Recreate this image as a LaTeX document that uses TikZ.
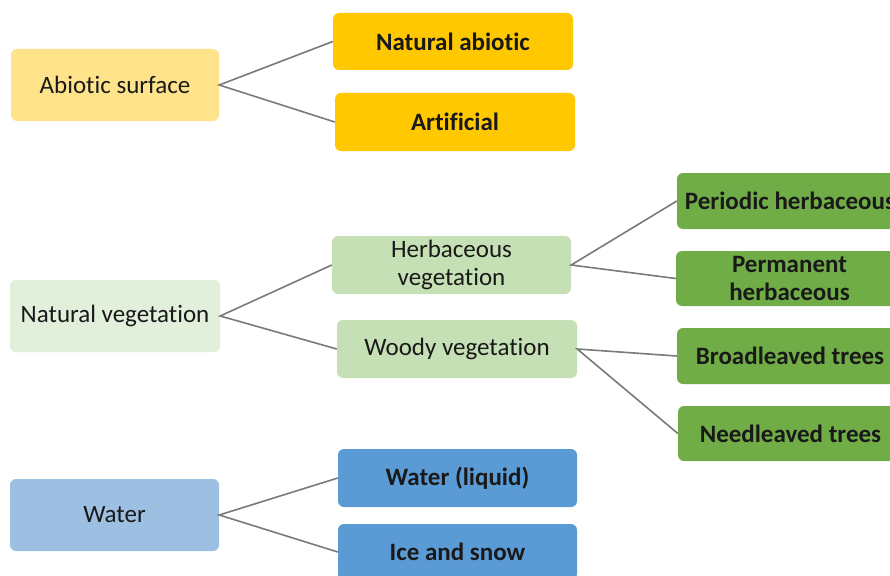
\documentclass[tikz,border=0pt]{standalone}
\usepackage{fontspec}
\setmainfont[Ligatures=NoCommon]{Carlito}
\begin{document}
\begin{tikzpicture}[x=1pt,y=-1pt,
  box/.style={inner sep=0pt, align=center, text=black!90,
    font=\fontsize{25}{28}\selectfont},
  boldbox/.style={box, font=\fontsize{25}{28}\selectfont\bfseries},
  link/.style={draw=black!52, line width=1.6pt},
]
\definecolor{yellowlight}{HTML}{FFE38A}
\definecolor{yellowdark}{HTML}{FFC800}
\definecolor{greenpale}{HTML}{E2EFDA}
\definecolor{greenlight}{HTML}{C5E0B4}
\definecolor{greendark}{HTML}{70AD47}
\definecolor{bluelight}{HTML}{9DC0E2}
\definecolor{bluedark}{HTML}{5B9BD5}
\clip (0,0) rectangle (890,575);
\fill[white] (0,0) rectangle (890,575);

% box(name, x0, y0, x1, y1, colour, style, text)
\newcommand{\boxat}[8]{%
  \fill[#6, rounded corners=6pt] (#2,#3) rectangle (#4,#5);
  \node[#7, minimum width=#4pt-#2pt, minimum height=#5pt-#3pt] (#1) at ({(#2+#4)/2},{(#3+#5)/2}) {#8};}

% abiotic branch
\boxat{abs}{11}{49}{219}{121}{yellowlight}{box}{Abiotic surface}
\boxat{nab}{333}{13}{573}{70}{yellowdark}{boldbox}{Natural abiotic}
\boxat{art}{335}{93}{575}{151}{yellowdark}{boldbox}{Artificial}

% vegetation branch
\boxat{nveg}{10}{280}{220}{352}{greenpale}{box}{Natural vegetation}
\boxat{herb}{332}{236}{571}{294}{greenlight}{box}{Herbaceous\\vegetation}
\boxat{wood}{337}{320}{577}{378}{greenlight}{box}{Woody vegetation}
\boxat{per}{677}{173}{903}{229}{greendark}{boldbox}{Periodic herbaceous}
\boxat{perm}{676}{251}{903}{306}{greendark}{boldbox}{Permanent\\herbaceous}
\boxat{broad}{677}{328}{903}{384}{greendark}{boldbox}{Broadleaved trees}
\boxat{needle}{678}{406}{903}{461}{greendark}{boldbox}{Needleaved trees}

% water branch
\boxat{wat}{10}{479}{219}{551}{bluelight}{box}{Water}
\boxat{liq}{338}{449}{577}{507}{bluedark}{boldbox}{Water (liquid)}
\boxat{ice}{338}{524}{577}{580}{bluedark}{boldbox}{Ice and snow}

% connectors
\draw[link] (nab.west) -- (abs.east) -- (art.west);
\draw[link] (herb.west) -- (nveg.east) -- (wood.west);
\draw[link] (per.west) -- (herb.east) -- (perm.west);
\draw[link] (broad.west) -- (wood.east) -- (needle.west);
\draw[link] (liq.west) -- (wat.east) -- (ice.west);
\end{tikzpicture}
\end{document}
